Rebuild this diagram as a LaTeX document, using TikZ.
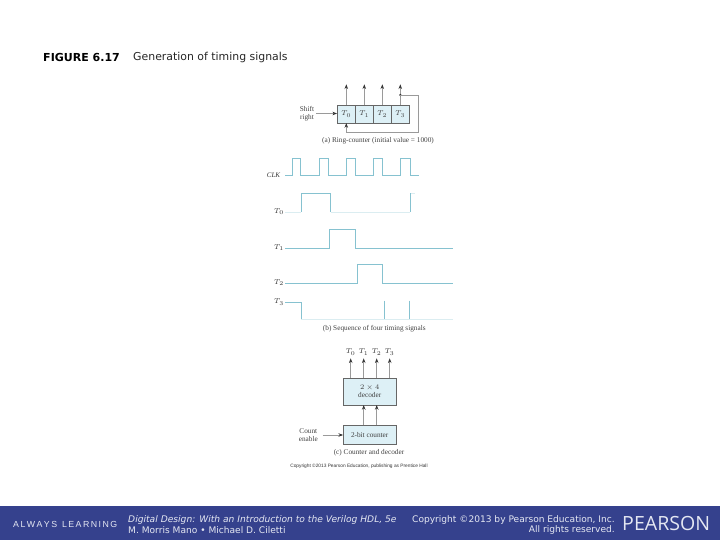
\documentclass[tikz,border=0pt]{standalone}
\usepackage{fontspec}
\setmainfont{DejaVu Sans}
\newfontfamily\bookfont{Liberation Serif}
\newfontfamily\labelfont{Liberation Sans}
\newfontfamily\brandfont{Open Sans}
\usetikzlibrary{arrows.meta}
\definecolor{PearsonBlue}{HTML}{35418D}
\definecolor{CellBlue}{HTML}{DDF0F6}
\definecolor{WaveBlue}{HTML}{86C2D0}
\definecolor{WireGray}{HTML}{9A9A9A}
\definecolor{FooterText}{HTML}{E4E7F2}
\tikzset{
  cell/.style={draw=black!60,fill=CellBlue,inner sep=0pt,line width=0.4pt,font=\bookfont\fontsize{6.2}{7}\selectfont,text=black!75,align=center},
  lbl/.style={inner sep=0pt,font=\bookfont\fontsize{5.6}{6.4}\selectfont,text=black!80,align=center},
  capt/.style={inner sep=0pt,font=\bookfont\fontsize{6.2}{7}\selectfont,text=black!75,align=center},
  wire/.style={WireGray,line width=0.7pt},
  sig/.style={wire,-{Stealth[length=4pt,width=3pt,color=black!80]}},
  wave/.style={WaveBlue,line width=0.7pt},
  faintwave/.style={WaveBlue!30,line width=0.3pt},
  foot/.style={inner sep=0pt,text=FooterText,font=\fontsize{7.75}{9}\selectfont}
}
\begin{document}
\begin{tikzpicture}[x=0.03cm,y=-0.03cm]
  \useasboundingbox (0,0) rectangle (720,540);
  % heading
  \node[inner sep=0pt,anchor=west,font=\bfseries\fontsize{9.4}{10}\selectfont,scale=1] (figno) at (43,57) {FIGURE 6.17};
  \node[inner sep=0pt,anchor=west,font=\fontsize{9.3}{10}\selectfont,text=black!85] (figtitle) at (133,57) {Generation of timing signals};

  % (a) ring counter
  \foreach \name/\x/\sub in {A/346.3/0,B/364.3/1,C/382.3/2,D/400.3/3} {
    \node[cell,minimum width=0.54cm,minimum height=0.53cm,font=\bookfont\fontsize{5.6}{6.4}\selectfont] (\name) at (\x,114) {$T_\sub$};
    \coordinate (out\name) at (\x,84.3);
    \draw[sig] (\name.north) -- (out\name);
  }
  \node[capt] (shift) at (307,113.5) {Shift\\right};
  \coordinate (shiftfree) at (316,113.5);
  \draw[sig] (shiftfree) -- (A.west |- shiftfree);
  \coordinate (fbtap) at (D.north |- 0,95);
  \coordinate (fbright) at (418.3,95);
  \coordinate (fblow) at (418.3,132.3);
  \coordinate (fbleft) at (A.south |- 0,132.3);
  \fill[black!80] (fbtap) circle (1.1pt);
  \draw[wire] (fbtap) -- (fbright) -- (fblow) -- (fbleft);
  \draw[sig] (fbleft) -- (A.south);
  \node[capt] (capa) at (378,140.7) {(a) Ring-counter (initial value = 1000)};

  % (b) timing signals
  \node[lbl,font=\bookfont\itshape\fontsize{6}{7}\selectfont] (clk) at (273.5,175) {CLK};
  \draw[wave] (285,175) -- (292.3,175) |- (300.7,158) |- (319.7,175) |- (328.3,158) |- (346.3,175)
    |- (355.3,158) |- (373.3,175) |- (382.3,158) |- (400.7,175) |- (410,158) |- (419,175);
  \node[lbl] (sigA) at (279,211.7) {$T_0$};
  \draw[faintwave] (285,212) -- (301.3,212) (330.7,212) -- (410,212) (410,193) -- (415,193);
  \draw[wave] (301.3,212) |- (330.7,193) -- (330.7,212) (410,212) -- (410,193);
  \node[lbl] (sigB) at (279,247.5) {$T_1$};
  \draw[wave] (285,248.7) -- (329.7,248.7) |- (355.3,229.3) |- (453.3,248.7);
  \node[lbl] (sigC) at (279,282.3) {$T_2$};
  \draw[wave] (285,283.3) -- (357,283.3) |- (382.3,264.3) |- (453.3,283.3);
  \node[lbl] (sigD) at (279,302) {$T_3$};
  \draw[faintwave] (301.3,319.3) -- (453.3,319.3);
  \draw[wave] (285,302.3) -- (301.3,302.3) -- (301.3,319.3) (384.3,300.7) -- (384.3,319.3) (409.7,300.7) -- (409.7,319.3);
  \node[capt] (capb) at (374.3,328.3) {(b) Sequence of four timing signals};

  % (c) counter and decoder
  \node[cell,minimum width=1.58cm,minimum height=0.81cm] (decoder) at (369.7,391.5) {$2\times4$\\decoder};
  \node[cell,minimum width=1.58cm,minimum height=0.58cm] (counter) at (369.7,435) {2-bit counter};
  \foreach \name/\x/\sub in {P/350.7/0,Q/363.7/1,R/376.7/2,S/389.7/3} {
    \node[lbl] (dec\name) at (\x,352) {$T_\sub$};
    \coordinate (tip\name) at (\x,358.3);
    \coordinate (foot\name) at (\x,378);
    \draw[sig] (foot\name) -- (tip\name);
  }
  \foreach \x in {363.7,376.7} {
    \draw[sig] (\x,425.3) -- (\x,405);
  }
  \node[capt] (enable) at (308.3,434.8) {Count\\enable};
  \coordinate (enablefree) at (322.7,435);
  \draw[sig] (enablefree) -- (counter.west);
  \node[capt] (capc) at (369,452.7) {(c) Counter and decoder};
  \node[lbl,font=\labelfont\fontsize{4.1}{5}\selectfont] (rights) at (359,466.7) {Copyright ©2013 Pearson Education, publishing as Prentice Hall};

  % footer band
  \fill[PearsonBlue] (0,506) rectangle (720,540);
  \node[foot,anchor=west,font=\labelfont\fontsize{7.5}{9}\selectfont] (always) at (13,524) {A\,L\,W\,A\,Y\,S\ \ L\,E\,A\,R\,N\,I\,N\,G};
  \node[foot,anchor=west,font=\itshape\fontsize{7.8}{9}\selectfont] (book) at (128,519.5) {Digital Design: With an Introduction to the Verilog HDL, 5e};
  \node[foot,anchor=west] (authors) at (128,530) {M. Morris Mano • Michael D. Ciletti};
  \node[foot,anchor=east] (copy) at (615,520) {Copyright ©2013 by Pearson Education, Inc.};
  \node[foot,anchor=east] (reserved) at (615,530) {All rights reserved.};
  \node[foot,anchor=west,font=\brandfont\fontsize{16.7}{18}\selectfont] (brand) at (622,524) {PEARSON};
\end{tikzpicture}
\end{document}
